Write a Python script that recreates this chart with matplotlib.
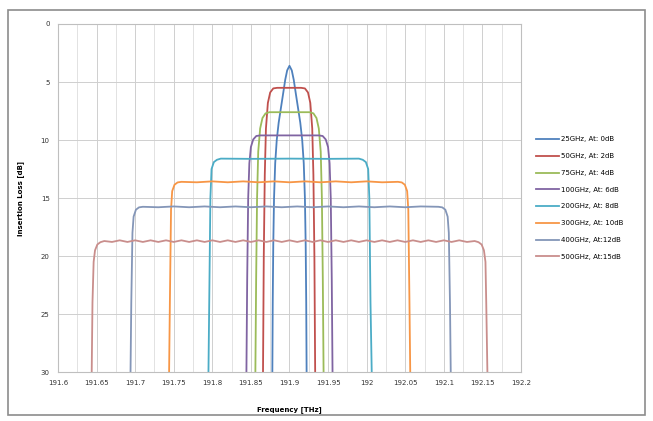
import numpy as np
import matplotlib.pyplot as plt
from matplotlib.patches import Rectangle

# Filtros (frequência em THz, perda de inserção em dB)
labels = ["25GHz, At: 0dB", "50GHz, At: 2dB", "75GHz, At: 4dB", "100GHz, At: 6dB",
          "200GHz, At: 8dB", "300GHz, At: 10dB", "400GHz, At:12dB", "500GHz, At:15dB"]
colors = ["#4F81BD", "#C0504D", "#9BBB59", "#8064A2",
          "#4BACC6", "#F79646", "#8496B8", "#C98E8C"]

f_25 = [191.8778, 191.8783, 191.879, 191.880, 191.8815, 191.8835, 191.886, 191.889,
        191.892, 191.8945, 191.897, 191.9, 191.903, 191.9055, 191.908, 191.911, 191.914,
        191.9165, 191.9185, 191.920, 191.921, 191.9217, 191.9222]
il_25 = [30, 24, 19, 15, 12, 10, 8.5, 7.2, 5.9, 4.8, 4.0, 3.6, 4.0, 4.8, 5.9, 7.2, 8.5,
         10, 12, 15, 19, 24, 30]

f_50 = [191.8657, 191.8667, 191.868, 191.8695, 191.872, 191.875, 191.879, 191.884,
        191.915, 191.920, 191.924, 191.927, 191.9295, 191.931, 191.9323, 191.9333]
il_50 = [30, 20, 13, 9, 6.8, 5.9, 5.55, 5.5, 5.5, 5.55, 5.9, 6.8, 9, 13, 20, 30]

f_75 = [191.8558, 191.8568, 191.858, 191.8595, 191.862, 191.865, 191.869, 191.874,
        191.926, 191.931, 191.935, 191.938, 191.9405, 191.942, 191.9432, 191.9442]
il_75 = [30, 22, 15, 11, 9, 8.1, 7.7, 7.6, 7.6, 7.7, 8.1, 9, 11, 15, 22, 30]

f_100 = [191.8442, 191.8452, 191.8465, 191.848, 191.850, 191.853, 191.857, 191.862,
         191.938, 191.943, 191.947, 191.950, 191.952, 191.9535, 191.9548, 191.9558]
il_100 = [30, 22, 15, 12, 10.6, 9.95, 9.65, 9.6, 9.6, 9.65, 9.95, 10.6, 12, 15, 22, 30]

f_200 = [191.795, 191.796, 191.7975, 191.799, 191.802, 191.806, 191.811, 191.85, 191.9,
         191.95, 191.990, 191.995, 191.999, 192.002, 192.0035, 192.005, 192.0066]
il_200 = [30, 24, 15, 12.5, 11.9, 11.7, 11.6, 11.62, 11.6, 11.62, 11.6, 11.7, 11.9,
          12.5, 15, 24, 30]

f_300 = [191.744, 191.745, 191.7465, 191.748, 191.751, 191.755, 191.760, 191.78, 191.80,
         191.82, 191.84, 191.86, 191.88, 191.90, 191.92, 191.94, 191.96, 191.98, 192.00,
         192.02, 192.0405, 192.0455, 192.0495, 192.0525, 192.054, 192.0555, 192.0565]
il_300 = [30, 24, 16, 14.4, 13.85, 13.65, 13.6, 13.64, 13.56, 13.64, 13.56, 13.64, 13.56,
          13.64, 13.56, 13.64, 13.56, 13.64, 13.56, 13.64, 13.6, 13.65, 13.85, 14.4, 16, 24, 30]

f_400 = [191.694, 191.695, 191.6965, 191.698, 191.701, 191.705, 191.710, 191.73, 191.75,
         191.77, 191.79, 191.81, 191.83, 191.85, 191.87, 191.89, 191.91, 191.93, 191.95,
         191.97, 191.99, 192.01, 192.03, 192.05, 192.07, 192.093, 192.098, 192.102,
         192.105, 192.1065, 192.108, 192.109]
il_400 = [30, 24, 18, 16.6, 16.0, 15.8, 15.75, 15.79, 15.72, 15.79, 15.72, 15.79, 15.72,
          15.79, 15.72, 15.79, 15.72, 15.79, 15.72, 15.79, 15.72, 15.79, 15.72, 15.79, 15.72,
          15.75, 15.8, 16.0, 16.6, 18, 24, 30]

f_500 = [191.6437, 191.6447, 191.6462, 191.648, 191.651, 191.655, 191.660, 191.67, 191.68,
         191.69, 191.70, 191.71, 191.72, 191.73, 191.74, 191.75, 191.76, 191.77, 191.78,
         191.79, 191.80, 191.81, 191.82, 191.83, 191.84, 191.85, 191.86, 191.87, 191.88,
         191.89, 191.90, 191.91, 191.92, 191.93, 191.94, 191.95, 191.96, 191.97, 191.98,
         191.99, 192.00, 192.01, 192.02, 192.03, 192.04, 192.05, 192.06, 192.07, 192.08,
         192.09, 192.10, 192.11, 192.12, 192.13, 192.14, 192.145, 192.149, 192.152,
         192.154, 192.155, 192.1565]
il_500 = [30, 24, 20.5, 19.5, 19.0, 18.8, 18.7, 18.78, 18.64, 18.78, 18.64, 18.78, 18.64,
          18.78, 18.64, 18.78, 18.64, 18.78, 18.64, 18.78, 18.64, 18.78, 18.64, 18.78, 18.64,
          18.78, 18.64, 18.78, 18.64, 18.78, 18.64, 18.78, 18.64, 18.78, 18.64, 18.78, 18.64,
          18.78, 18.64, 18.78, 18.64, 18.78, 18.64, 18.78, 18.64, 18.78, 18.64, 18.78, 18.64,
          18.78, 18.64, 18.78, 18.64, 18.78, 18.7, 18.8, 19.0, 19.5, 20.5, 24, 30]

freqs = [f_25, f_50, f_75, f_100, f_200, f_300, f_400, f_500]
losses = [il_25, il_50, il_75, il_100, il_200, il_300, il_400, il_500]

x_ticks = [191.6, 191.65, 191.7, 191.75, 191.8, 191.85, 191.9, 191.95,
           192.0, 192.05, 192.1, 192.15, 192.2]
y_ticks = [0, 5, 10, 15, 20, 25, 30]

## Gráfico
fig = plt.figure(figsize=(6.53, 4.21), dpi=100)
fig.patches.append(Rectangle((0.012, 0.014), 0.976, 0.962, transform=fig.transFigure,
                             fill=False, edgecolor="#8C8C8C", linewidth=1.2))
ax = fig.add_axes([0.0888, 0.116, 0.709, 0.827])

for f, il, c, lab in zip(freqs, losses, colors, labels):
    ax.plot(f, il, color=c, lw=1.3, label=lab, solid_joinstyle="round")

ax.set_xlim(191.6, 192.2)
ax.set_ylim(30, 0)
ax.set_xticks(x_ticks)
ax.set_xticklabels(["%g" % t for t in x_ticks])
ax.set_xticks(np.arange(191.625, 192.2, 0.05), minor=True)
ax.set_yticks(y_ticks)
ax.grid(True, which="major", axis="both", color="#CFCFCF", lw=0.7)
ax.grid(True, which="minor", axis="x", color="#E2E2E2", lw=0.7)
ax.set_axisbelow(True)
ax.tick_params(axis="both", which="both", length=0, labelsize=5, colors="#333333", pad=6)
for s in ax.spines.values():
    s.set_color("#BFBFBF")
    s.set_linewidth(0.8)

ax.set_xlabel("Frequency [THz]", fontsize=5, fontweight="bold", labelpad=14)
ax.set_ylabel("Insertion Loss [dB]", fontsize=5, fontweight="bold", labelpad=12)

ax.legend(loc="center left", bbox_to_anchor=(1.02, 0.5), frameon=False, fontsize=5,
          handlelength=3.2, handletextpad=0.3, labelspacing=1.55)

plt.savefig("out.png", dpi=100)
